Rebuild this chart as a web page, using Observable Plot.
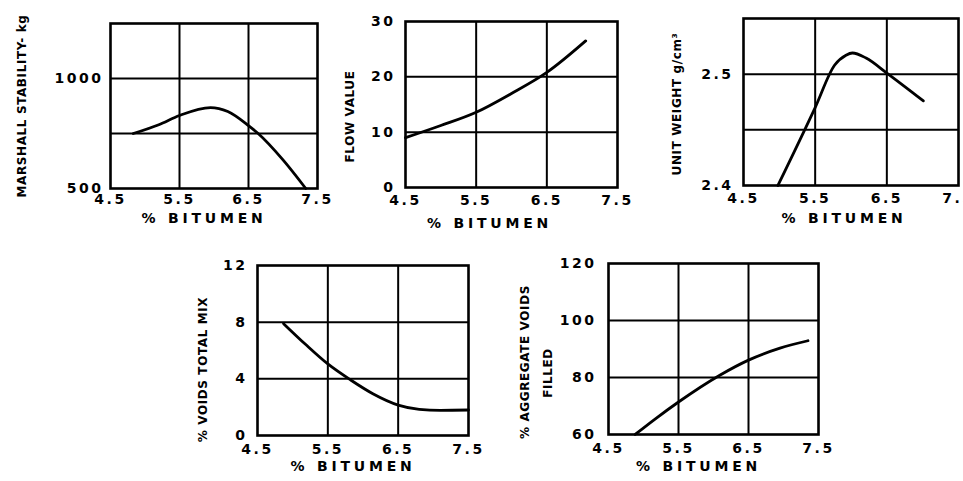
<!DOCTYPE html>
<html>
<head>
<meta charset="utf-8">
<script src="https://cdn.jsdelivr.net/npm/d3@7"></script>
<script src="https://cdn.jsdelivr.net/npm/@observablehq/plot@0.6"></script>
<style>
  html, body { margin: 0; padding: 0; background: #fff; }
  #page { position: relative; width: 963px; height: 481px; overflow: hidden; background: #fff; }
  #page svg { position: absolute; background: transparent; overflow: visible; }
  #page svg text { font-family: "DejaVu Sans", sans-serif; font-weight: bold; fill: #000; }
  #page g[aria-label="x-axis tick label"] text,
  #page g[aria-label="y-axis tick label"] text { font-size: 14px; letter-spacing: 2.5px; }
  #page g.xtitle text { font-size: 14px; letter-spacing: 3.8px; }
  #page g.ytitle text { font-size: 12px; letter-spacing: 0.6px; }
</style>
</head>
<body>
<div id="page"></div>
<script>
// ---- shared x axis (% bitumen) ----
const xDomain = [4.5, 7.5];
const xTicks = [4.5, 5.5, 6.5, 7.5];
const xGrid = [5.5, 6.5];
const xTitle = "% BITUMEN";

// ---- 1. Marshall stability ----
const stabBitumen = [4.83, 5.2, 5.5, 5.95, 6.2, 6.5, 6.64, 7.0, 7.33];
const stabValue   = [750, 790, 832, 868, 850, 786, 750, 630, 500];
const stabDomain = [500, 1250];
const stabTicks = [500, 1000];
const stabGrid = [750, 1000];

// ---- 2. Flow value ----
const flowBitumen = [4.5, 5.0, 5.5, 6.0, 6.5, 7.05];
const flowValue   = [9, 11.2, 13.6, 17, 20.8, 26.5];
const flowDomain = [0, 30];
const flowTicks = [0, 10, 20, 30];
const flowGrid = [10, 20];

// ---- 3. Unit weight ----
const uwBitumen = [4.98, 5.5, 5.77, 5.93, 6.02, 6.21, 6.5, 7.01];
const uwValue   = [2.4, 2.47, 2.508, 2.517, 2.519, 2.5145, 2.501, 2.476];
const uwDomain = [2.4, 2.55];
const uwTicks = [2.4, 2.5];
const uwGrid = [2.45, 2.5];

// ---- 4. Voids total mix ----
const vtmBitumen = [4.87, 5.19, 5.5, 5.83, 6.14, 6.5, 6.8, 7.1, 7.5];
const vtmValue   = [7.9, 6.4, 5.05, 3.9, 2.95, 2.15, 1.85, 1.78, 1.8];
const vtmDomain = [0, 12];
const vtmTicks = [0, 4, 8, 12];
const vtmGrid = [4, 8];

// ---- 5. Aggregate voids filled ----
const vfaBitumen = [4.88, 5.17, 5.5, 6.09, 6.5, 6.95, 7.35];
const vfaValue   = [60, 65.5, 71.4, 80.8, 86.1, 90.3, 92.9];
const vfaDomain = [60, 120];
const vfaTicks = [60, 80, 100, 120];
const vfaGrid = [80, 100];

function chart(cfg) {
  const data = cfg.xs.map((x, i) => ({x, y: cfg.ys[i]}));
  const ink = {stroke: "#000", strokeOpacity: 1, strokeWidth: 2};
  const marks = [
    Plot.gridX(xGrid, ink),
    Plot.gridY(cfg.yGrid, ink),
    Plot.frame({stroke: "#000", strokeWidth: 2.6}),
    Plot.axisX(xTicks, {tickSize: 0, tickPadding: cfg.xPad, label: null, tickFormat: d => String(d)}),
    Plot.axisY(cfg.yTicks, {tickSize: 0, tickPadding: cfg.yPad, label: null, tickFormat: d => String(d)}),
    Plot.line(data, {x: "x", y: "y", curve: "monotone-x", stroke: "#000", strokeWidth: 2.8}),
    Plot.text([xTitle], {frameAnchor: "bottom", textAnchor: "middle", dx: cfg.xtDx, dy: cfg.xtDy, className: "xtitle"})
  ];
  cfg.yTitles.forEach(t => {
    marks.push(Plot.text([t.text], {frameAnchor: "left", textAnchor: "middle", lineAnchor: "middle", rotate: -90, dx: t.dx, dy: t.dy, className: "ytitle"}));
  });
  const svg = Plot.plot({
    width: cfg.w, height: cfg.h,
    marginLeft: cfg.ml, marginRight: cfg.mr, marginTop: cfg.mt, marginBottom: cfg.mb,
    x: {domain: xDomain},
    y: {domain: cfg.yDomain},
    marks
  });
  svg.style.left = cfg.left + "px";
  svg.style.top = cfg.top + "px";
  document.getElementById("page").appendChild(svg);
}

chart({left: 0, top: 0, w: 330, h: 240, ml: 110, mr: 13, mt: 23, mb: 52,
  xs: stabBitumen, ys: stabValue, yDomain: stabDomain, yTicks: stabTicks, yGrid: stabGrid,
  xPad: 6, yPad: 7, xtDx: -10, xtDy: 34,
  yTitles: [{text: "MARSHALL STABILITY- kg", dx: -88, dy: 0}]});

chart({left: 330, top: 0, w: 320, h: 240, ml: 75, mr: 33, mt: 21, mb: 53,
  xs: flowBitumen, ys: flowValue, yDomain: flowDomain, yTicks: flowTicks, yGrid: flowGrid,
  xPad: 8, yPad: 10, xtDx: -22, xtDy: 40,
  yTitles: [{text: "FLOW VALUE", dx: -55, dy: 12}]});

chart({left: 650, top: 0, w: 313, h: 240, ml: 93, mr: 5, mt: 18, mb: 55,
  xs: uwBitumen, ys: uwValue, yDomain: uwDomain, yTicks: uwTicks, yGrid: uwGrid,
  xPad: 8, yPad: 10, xtDx: -7, xtDy: 37,
  yTitles: [{text: "UNIT WEIGHT g/cm³", dx: -66, dy: 2}]});

chart({left: 180, top: 240, w: 320, h: 241, ml: 77, mr: 32, mt: 25, mb: 46,
  xs: vtmBitumen, ys: vtmValue, yDomain: vtmDomain, yTicks: vtmTicks, yGrid: vtmGrid,
  xPad: 9, yPad: 10, xtDx: -10, xtDy: 35,
  yTitles: [{text: "% VOIDS TOTAL MIX", dx: -54, dy: 19}]});

chart({left: 500, top: 240, w: 340, h: 241, ml: 108, mr: 22, mt: 23, mb: 47,
  xs: vfaBitumen, ys: vfaValue, yDomain: vfaDomain, yTicks: vfaTicks, yGrid: vfaGrid,
  xPad: 9, yPad: 12, xtDx: -15, xtDy: 36,
  yTitles: [{text: "% AGGREGATE VOIDS", dx: -83, dy: 13}, {text: "FILLED", dx: -60, dy: 24}]});
</script>
</body>
</html>
